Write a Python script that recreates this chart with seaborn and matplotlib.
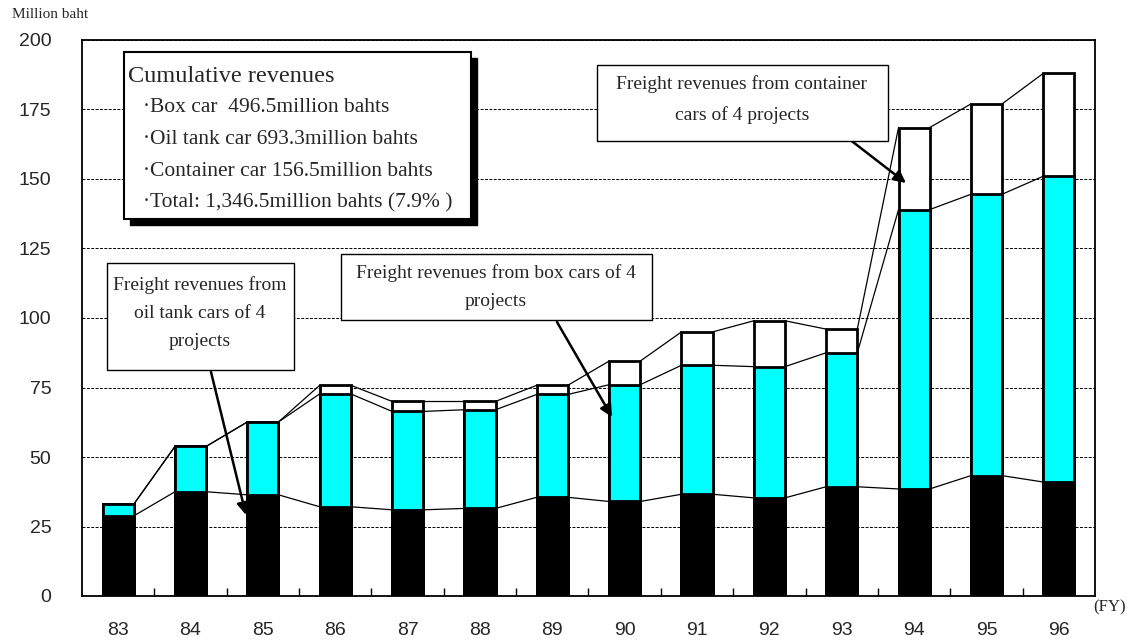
import numpy as np
import pandas as pd
import matplotlib
matplotlib.use("Agg")
import matplotlib.pyplot as plt
from matplotlib.patches import Rectangle
import seaborn as sns

# Fiscal years and freight revenues (million baht) per car type
years = ["83", "84", "85", "86", "87", "88", "89", "90", "91", "92", "93", "94", "95", "96"]
black_seg = [28.8, 37.5, 36.4, 32.1, 31.0, 31.5, 35.5, 34.0, 36.6, 35.3, 39.3, 38.5, 43.3, 41.0]
cyan_seg = [4.2, 16.3, 26.2, 40.6, 35.4, 35.5, 37.0, 42.0, 46.4, 47.2, 48.2, 100.5, 101.2, 110.0]
white_seg = [0.0, 0.0, 0.0, 3.1, 3.6, 3.0, 3.3, 8.5, 12.0, 16.5, 8.5, 29.5, 32.5, 37.0]

y_ticks = [0, 25, 50, 75, 100, 125, 150, 175, 200]

W, H = 1134, 641
sns.set_theme(style="white")
SANS = ["Liberation Sans", "DejaVu Sans"]
SERIF = ["Liberation Serif", "DejaVu Serif"]
plt.rcParams["font.family"] = SANS

df = pd.DataFrame({"year": years, "black": black_seg, "cyan": cyan_seg, "white": white_seg})
df["lvl1"] = df["black"]
df["lvl2"] = df["black"] + df["cyan"]
df["lvl3"] = df["lvl2"] + df["white"]

fig = plt.figure(figsize=(W / 100, H / 100), dpi=100)
ax = fig.add_axes([82 / W, 1 - 596 / H, (1095 - 82) / W, (596 - 40) / H])

BAR_W = 0.43
# stacked bars drawn as overlapping cumulative totals
for col, colour in [("lvl3", "white"), ("lvl2", "#00FFFF"), ("lvl1", "black")]:
    sns.barplot(data=df, x="year", y=col, order=years, color=colour, saturation=1,
                width=BAR_W, edgecolor="black", linewidth=2, ax=ax, zorder=3)

# thin connector lines between neighbouring bar tops
xs = np.arange(len(years))
for col in ["lvl1", "lvl2", "lvl3"]:
    vals = df[col].to_numpy()
    for i in range(len(years) - 1):
        ax.plot([xs[i] + BAR_W / 2, xs[i + 1] - BAR_W / 2], [vals[i], vals[i + 1]],
                color="black", lw=0.9, zorder=2.5)

ax.set_ylim(0, 200)
ax.set_xlim(-0.5, len(years) - 0.5)
ax.set_yticks(y_ticks)
ax.set_yticklabels([str(v) for v in y_ticks], fontsize=14, family=SANS)
ax.set_xticks(xs)
ax.set_xticklabels(years, fontsize=14, family=SANS)
ax.set_xticks(xs[:-1] + 0.5, minor=True)
ax.tick_params(axis="x", which="major", length=0, pad=19)
ax.tick_params(axis="x", which="minor", direction="in", length=6, width=1, color="black", bottom=True)
ax.tick_params(axis="y", length=0, pad=22)
ax.set_xlabel("")
ax.set_ylabel("")
ax.set_axisbelow(True)
ax.yaxis.grid(True, linestyle=(0, (3, 1.5)), color="black", lw=0.7)
ax.xaxis.grid(False)
for s in ax.spines.values():
    s.set_visible(True)
    s.set_color("black")
    s.set_linewidth(1.3)


def fx(x):
    return x / W


def fy(y):
    return 1 - y / H


def box(x0, y0, x1, y1, lw=1.0, shadow=0):
    if shadow:
        fig.add_artist(Rectangle((fx(x0 + shadow), fy(y1 + shadow)), fx(x1 - x0), (y1 - y0) / H,
                                 transform=fig.transFigure, facecolor="black",
                                 edgecolor="black", zorder=5))
    fig.add_artist(Rectangle((fx(x0), fy(y1)), fx(x1 - x0), (y1 - y0) / H,
                             transform=fig.transFigure, facecolor="white",
                             edgecolor="black", lw=lw, zorder=6))


def line(x, y, s, size=14, ha="center"):
    fig.text(fx(x), fy(y), s, ha=ha, va="center", fontsize=size, family=SERIF, zorder=7)


def arrow(x0, y0, x1, y1):
    ax.annotate("", xy=(x1, H - y1), xycoords="figure pixels",
                xytext=(x0, H - y0), textcoords="figure pixels",
                arrowprops=dict(arrowstyle="-|>", lw=1.8, color="black", mutation_scale=18,
                                shrinkA=0, shrinkB=0), zorder=8)


# axis captions
fig.text(fx(12), fy(15), "Million baht", ha="left", va="center", fontsize=11, family=SERIF)
fig.text(fx(1093), fy(607), "(FY)", ha="left", va="center", fontsize=12, family=SERIF)

# cumulative revenue summary
box(124, 52, 471, 219, lw=1.5, shadow=6)
line(128, 76, "Cumulative revenues", size=17.5, ha="left")
line(143, 107, "·Box car  496.5million bahts", size=15.5, ha="left")
line(143, 139, "·Oil tank car 693.3million bahts", size=15.5, ha="left")
line(143, 171, "·Container car 156.5million bahts", size=15.5, ha="left")
line(143, 203, "·Total: 1,346.5million bahts (7.9% )", size=15.5, ha="left")

# callout: oil tank cars
box(107, 263, 294, 370)
line(200, 285, "Freight revenues from")
line(200, 313, "oil tank cars of 4")
line(200, 341, "projects")
arrow(211, 372, 246, 515)

# callout: box cars
box(341, 254, 652, 320)
line(496, 273, "Freight revenues from box cars of 4")
line(496, 301, "projects")
arrow(557, 322, 612, 417)

# callout: container cars
box(597, 65, 888, 141)
line(742, 84, "Freight revenues from container")
line(742, 115, "cars of 4 projects")
arrow(840, 132, 906, 183)

fig.savefig("out.png", dpi=100)
